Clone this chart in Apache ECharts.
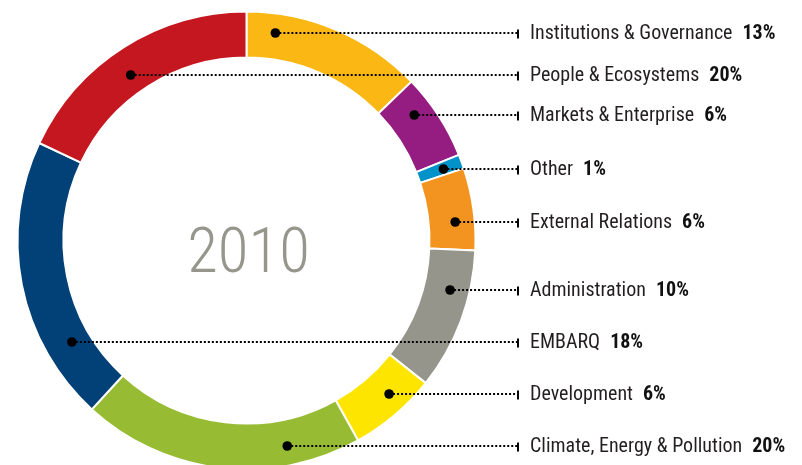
<!DOCTYPE html>
<html>
<head>
<meta charset="utf-8">
<script src="https://cdn.jsdelivr.net/npm/echarts@6/dist/echarts.min.js"></script>
<style>
  html, body { margin: 0; padding: 0; background: #fff; }
  #chart { width: 802px; height: 465px; }
</style>
</head>
<body>
<div id="chart"></div>
<script>
// ---- data ----
const categories = [
  'Institutions & Governance', 'Markets & Enterprise', 'Other', 'External Relations',
  'Administration', 'Development', 'Climate, Energy & Pollution', 'EMBARQ', 'People & Ecosystems'
];
// share of the ring as drawn (clockwise from 12 o'clock)
const shares = [12.8, 6.1, 1.0, 5.8, 10.0, 6.2, 19.9, 20.2, 18.0];
// percentages as printed in the labels
const percentLabels = ['13%', '6%', '1%', '6%', '10%', '6%', '20%', '18%', '20%'];
const centerTitle = '2010';

// ---- styling / layout ----
const colors = ['#FBB815', '#951C81', '#0092C8', '#F39420', '#95958B', '#FEE500', '#98BB34', '#024177', '#C4171F'];
const labelRowY = [33, 115, 169, 222, 290, 394, 446, 342, 75];
const CX = 246.5, CY = 240.5, R_IN = 183, R_OUT = 229;
const R_DOT_RIGHT = 209.5, R_DOT_LEFT = 202;
const TICK_X = 517;

// pick the narrowest available sans family
const ctx = document.createElement('canvas').getContext('2d');
function measure(font, s) { ctx.font = font; return ctx.measureText(s).width; }
function hasFont(f) {
  const s = 'Institutions & Governance 0123456789';
  return measure('20px monospace', s) !== measure('20px "' + f + '", monospace', s) ||
         measure('20px serif', s) !== measure('20px "' + f + '", serif', s);
}
const candidates = ['Roboto Condensed', 'Liberation Sans Narrow', 'Arial Narrow', 'Nimbus Sans Narrow', 'DejaVu Sans Condensed', 'Roboto'];
const family = candidates.find(hasFont) || 'sans-serif';
const FONT = '"' + family + '", sans-serif';
const isLightCapable = family === 'Roboto Condensed' || family === 'Roboto';
const w20 = measure('20px ' + FONT, 'Institutions & Governance');
const labelSize = Math.round((0.75 * (20 * 198 / w20) + 0.25 * 20.5) * 2) / 2;
const t68 = measure((isLightCapable ? '300 ' : '') + '68px ' + FONT, centerTitle);
const titleSize = Math.round(0.96 * (0.5 * (68 * 115 / t68) + 0.5 * 72));

// dot position: on a circle in the ring at the label row, inside the slice
const total = shares.reduce((a, b) => a + b, 0);
let acc = 0;
const dots = shares.map((v, i) => {
  const a0 = acc / total * 360; acc += v; const a1 = acc / total * 360;
  const y = labelRowY[i];
  const dy = y - CY;
  const dxR = Math.sqrt(Math.max(0, R_DOT_RIGHT * R_DOT_RIGHT - dy * dy));
  const dxL = Math.sqrt(Math.max(0, R_DOT_LEFT * R_DOT_LEFT - dy * dy));
  const cands = [CX + dxR, CX - dxL].map(x => {
    let th = Math.atan2(x - CX, -(y - CY)) * 180 / Math.PI;
    if (th < 0) th += 360;
    return { x, th };
  }).filter(c => c.th >= a0 && c.th <= a1);
  let x;
  if (cands.length) x = Math.max(...cands.map(c => c.x));
  else {
    const m = (a0 + a1) / 2 * Math.PI / 180;
    x = CX + R_DOT_RIGHT * Math.sin(m);
  }
  return [x, y];
});

const chart = echarts.init(document.getElementById('chart'), null, { renderer: 'canvas' });
chart.setOption({
  animation: false,
  series: [{
    type: 'pie',
    center: [CX, CY],
    radius: [R_IN, R_OUT],
    startAngle: 90,
    clockwise: true,
    avoidLabelOverlap: false,
    silent: true,
    itemStyle: { borderColor: '#ffffff', borderWidth: 2 },
    data: categories.map((c, i) => ({ name: c, value: shares[i], itemStyle: { color: colors[i] } })),
    label: {
      show: true,
      position: 'outside',
      formatter: p => '{t|}{g|}{n|' + p.name + '}{h|}{p|' + percentLabels[p.dataIndex] + '}',
      rich: {
        t: { width: 2, height: 9, backgroundColor: '#000' },
        g: { width: 11 },
        n: { fontFamily: FONT, fontSize: labelSize, color: '#231f20' },
        h: { width: 10 },
        p: { fontFamily: FONT, fontSize: labelSize, fontWeight: 'bold', color: '#111' }
      }
    },
    labelLine: { show: false },
    labelLayout: params => ({
      x: TICK_X,
      y: labelRowY[params.dataIndex] + 1,
      align: 'left',
      verticalAlign: 'middle'
    })
  }],
  graphic: [
    ...dots.map(d => ({
      type: 'line',
      shape: { x1: d[0], y1: d[1], x2: TICK_X, y2: d[1] },
      style: { stroke: '#000', lineWidth: 2, lineDash: [2, 2] },
      z: 100
    })),
    ...dots.map(d => ({
      type: 'circle',
      shape: { cx: d[0], cy: d[1], r: 4.8 },
      style: { fill: '#000' },
      z: 101
    })),
    {
      type: 'text',
      x: 248.5,
      y: 256,
      style: {
        text: centerTitle,
        fontFamily: FONT,
        fontWeight: isLightCapable ? 300 : 'normal',
        fontSize: titleSize,
        fill: '#96968d',
        align: 'center',
        verticalAlign: 'middle'
      },
      z: 100
    }
  ]
});
</script>
</body>
</html>
